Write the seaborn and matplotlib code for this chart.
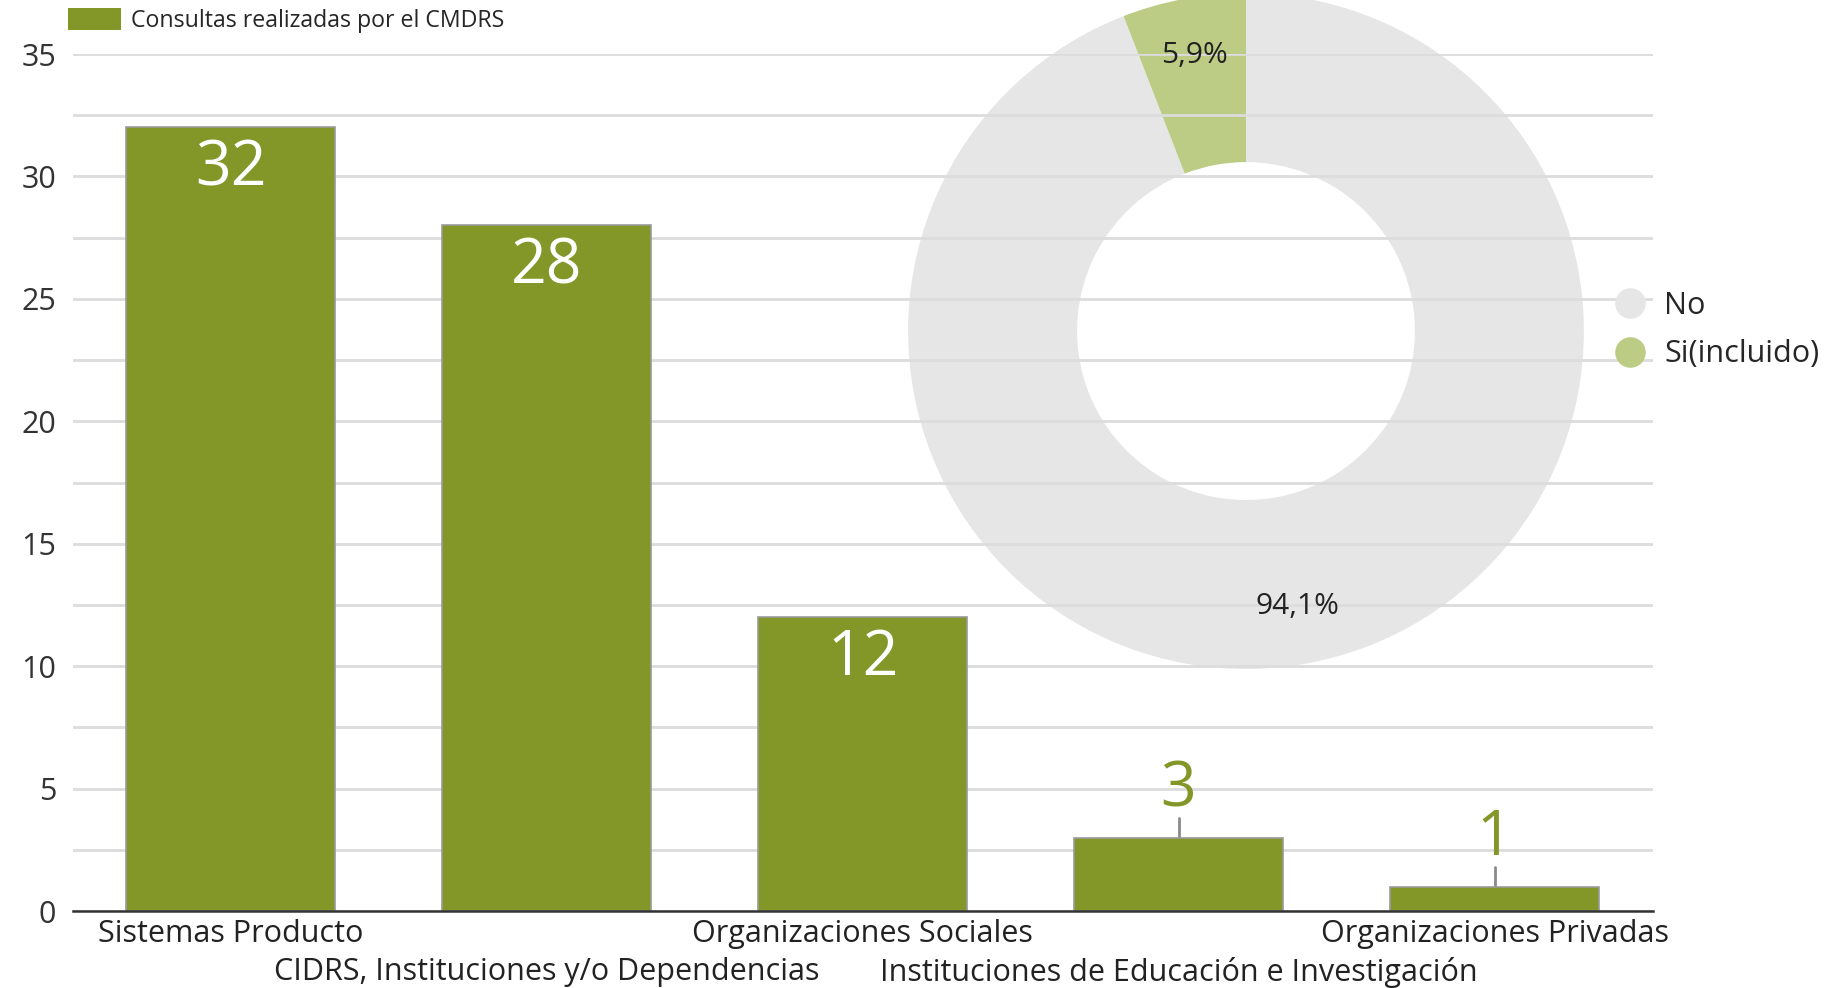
import numpy as np
import pandas as pd
import seaborn as sns
import matplotlib.pyplot as plt
from matplotlib.patches import Patch
from matplotlib.lines import Line2D

categorias = [
    "Sistemas Producto",
    "CIDRS, Instituciones y/o Dependencias",
    "Organizaciones Sociales",
    "Instituciones de Educación e Investigación",
    "Organizaciones Privadas",
]
consultas = [32, 28, 12, 3, 1]

pie_labels = ["No", "Si(incluido)"]
pie_values = [94.1, 5.9]

verde = "#839628"
verde_claro = "#bccc84"
gris = "#e6e6e6"

if __name__ == "__main__":
    sns.set_theme(style="white")
    plt.rcParams["font.family"] = ["Open Sans", "DejaVu Sans"]

    fig = plt.figure(figsize=(18.38, 9.88), dpi=100)

    # donut behind the bar axes
    ax_pie = fig.add_axes([0.494, 0.3229, 0.3678, 0.684])
    wedges, _, autotexts = ax_pie.pie(
        pie_values,
        colors=[gris, verde_claro],
        startangle=90,
        counterclock=False,
        wedgeprops={"width": 0.5, "linewidth": 0},
        autopct=lambda p: f"{p:.1f}%".replace(".", ","),
        pctdistance=0.83,
    )
    ax_pie.set_xlim(-1, 1)
    ax_pie.set_ylim(-1, 1)
    ax_pie.set_aspect("equal")
    # percentage labels go on top of the gridlines
    fig.canvas.draw()
    for t in autotexts:
        x, y = fig.transFigure.inverted().transform(
            ax_pie.transData.transform(t.get_position()))
        fig.text(x, y, t.get_text(), ha="center", va="center",
                 fontsize=21.5, color="#222222", zorder=10)
        t.set_visible(False)

    # bars
    ax = fig.add_axes([0.0396, 0.0779, 0.8595, 0.8674])
    ax.patch.set_alpha(0)
    df = pd.DataFrame({"categoria": categorias, "consultas": consultas})
    sns.barplot(
        data=df, x="categoria", y="consultas", color=verde, width=0.66,
        saturation=1, edgecolor="#9a9a9a", linewidth=1.2, ax=ax, zorder=3,
    )
    ax.set_xlim(-0.5, 4.5)
    ax.set_ylim(0, 35)
    ax.set_yticks(np.arange(0, 36, 5))
    ax.set_yticks(np.arange(2.5, 35, 5), minor=True)
    ax.grid(axis="y", which="both", color="#dcdcdc", linewidth=2, zorder=0)
    ax.set_axisbelow(True)
    ax.set_xlabel("")
    ax.set_ylabel("")
    for s in ["top", "right", "left"]:
        ax.spines[s].set_visible(False)
    ax.spines["bottom"].set_color("#333333")
    ax.spines["bottom"].set_linewidth(1.8)
    ax.spines["bottom"].set_zorder(4)
    ax.tick_params(axis="y", which="both", length=0, labelsize=22,
                   labelcolor="#333333", pad=12)
    ax.tick_params(axis="x", length=0, labelsize=22, labelcolor="#222222")
    ax.set_xticks(range(len(categorias)))
    ax.set_xticklabels(categorias)
    for i, t in enumerate(ax.xaxis.get_major_ticks()):
        t.set_pad(6 if i % 2 == 0 else 33)

    # value labels
    for i, v in enumerate(consultas):
        if v >= 10:
            ax.text(i, v - 1.7, str(v), ha="center", va="center",
                    color="white", fontsize=45, zorder=5)
        else:
            ax.plot([i, i], [v, v + 0.8], color="#8a8a8a", lw=2, zorder=2)
            ax.text(i, v + 1.95, str(v), ha="center", va="center",
                    color=verde, fontsize=45, zorder=5)

    # legends
    fig.legend(
        handles=[Patch(facecolor=verde, edgecolor="none",
                       label="Consultas realizadas por el CMDRS")],
        loc="lower left", bbox_to_anchor=(0.032, 0.957), frameon=False,
        fontsize=16.7, handlelength=2.3, handleheight=1.1, handletextpad=0.4,
        borderaxespad=0,
    )
    fig.legend(
        handles=[
            Line2D([], [], marker="o", ls="", markersize=22, color=c,
                   markeredgewidth=0, label=l)
            for c, l in zip([gris, verde_claro], pie_labels)
        ],
        loc="center left", bbox_to_anchor=(0.8555, 0.666), frameon=False,
        fontsize=22, handletextpad=0.1, labelspacing=0.62,
    )

    fig.savefig("out.png", dpi=100)
